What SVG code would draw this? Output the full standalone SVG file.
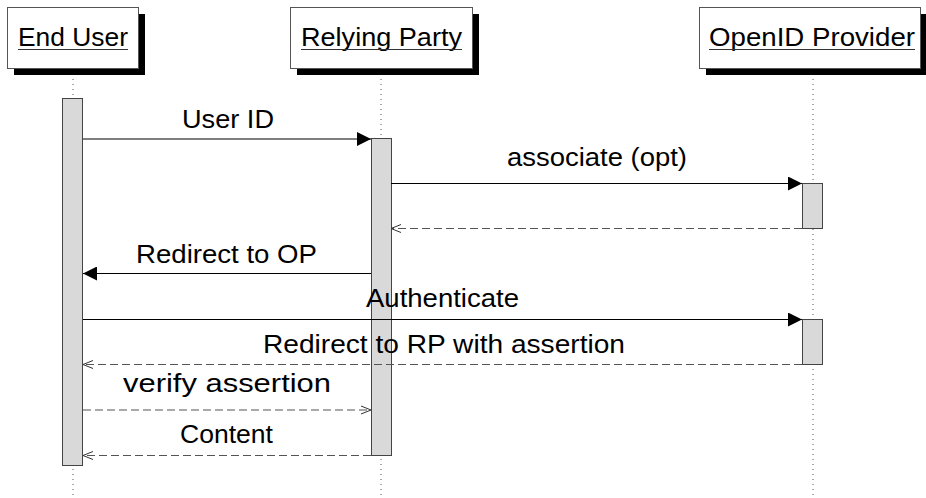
<svg xmlns="http://www.w3.org/2000/svg" width="926" height="498" viewBox="0 0 926 498">
<style>
text{font-family:"Liberation Sans","DejaVu Sans",sans-serif;font-size:26px;fill:#000}
.box{fill:#fff;stroke:#555;stroke-width:1}
.shadow{fill:#000}
.ul{stroke:#333;stroke-width:1.2}
.life{stroke:#555;stroke-width:1;stroke-dasharray:1 4}
.act{fill:#d9d9d9;stroke:#444;stroke-width:1}
.msg{stroke:#000;stroke-width:1.2;fill:none}
.ret{stroke:#555;stroke-width:1.2;fill:none;stroke-dasharray:8 4}
</style>
<defs>
<marker id="fill" markerWidth="14" markerHeight="14" refX="14" refY="7" orient="auto" markerUnits="userSpaceOnUse">
<path d="M0,0 L14,7 L0,14 Z" fill="#000"/>
</marker>
<marker id="open" markerWidth="12" markerHeight="12" refX="11" refY="6" orient="auto" markerUnits="userSpaceOnUse">
<path d="M1,2 L11,6 L1,10" fill="none" stroke="#333" stroke-width="1"/>
</marker>
</defs>
<g id="lifelines">
<line class="life" x1="73" y1="74" x2="73" y2="498"/>
<line class="life" x1="381" y1="74" x2="381" y2="498"/>
<line class="life" x1="813" y1="74" x2="813" y2="498"/>
</g>
<g id="end-user">
<rect class="shadow" x="14" y="14" width="131" height="61"/>
<rect class="box" x="7.5" y="7.5" width="131" height="61"/>
<text x="73" y="46" text-anchor="middle" textLength="110" lengthAdjust="spacingAndGlyphs">End User</text>
<line class="ul" x1="18" y1="49.5" x2="128" y2="49.5"/>
<rect class="act" x="62.5" y="98.5" width="20" height="367"/>
</g>
<g id="relying-party">
<rect class="shadow" x="297" y="14" width="182" height="61"/>
<rect class="box" x="290.5" y="7.5" width="182" height="61"/>
<text x="381.5" y="46" text-anchor="middle" textLength="161" lengthAdjust="spacingAndGlyphs">Relying Party</text>
<line class="ul" x1="301" y1="49.5" x2="462" y2="49.5"/>
<rect class="act" x="371.5" y="138.5" width="20" height="317"/>
</g>
<g id="openid-provider">
<rect class="shadow" x="706" y="14" width="221" height="61"/>
<rect class="box" x="699.5" y="7.5" width="221" height="61"/>
<text x="812" y="46" text-anchor="middle" textLength="206" lengthAdjust="spacingAndGlyphs">OpenID Provider</text>
<line class="ul" x1="709" y1="49.5" x2="915" y2="49.5"/>
<rect class="act" x="802.5" y="183.5" width="20" height="45"/>
<rect class="act" x="802.5" y="319.5" width="20" height="45"/>
</g>
<g id="connectors">
<line class="msg" x1="83" y1="139" x2="371" y2="139" marker-end="url(#fill)"/>
<line class="msg" x1="391" y1="183.5" x2="802" y2="183.5" marker-end="url(#fill)"/>
<line class="ret" x1="802" y1="228.5" x2="391" y2="228.5" marker-end="url(#open)"/>
<line class="msg" x1="371" y1="273.5" x2="83" y2="273.5" marker-end="url(#fill)"/>
<line class="msg" x1="83" y1="319.5" x2="802" y2="319.5" marker-end="url(#fill)"/>
<line class="ret" x1="802" y1="364.5" x2="83" y2="364.5" marker-end="url(#open)"/>
<line class="ret" x1="83" y1="410" x2="371" y2="410" marker-end="url(#open)"/>
<line class="ret" x1="371" y1="455.5" x2="83" y2="455.5" marker-end="url(#open)"/>
</g>
<g id="labels">
<text x="228" y="128" text-anchor="middle" textLength="92" lengthAdjust="spacingAndGlyphs">User ID</text>
<text x="597" y="166" text-anchor="middle" textLength="180" lengthAdjust="spacingAndGlyphs">associate (opt)</text>
<text x="226.5" y="263" text-anchor="middle" textLength="181" lengthAdjust="spacingAndGlyphs">Redirect to OP</text>
<text x="442.5" y="307" text-anchor="middle" textLength="153" lengthAdjust="spacingAndGlyphs">Authenticate</text>
<text x="444" y="353" text-anchor="middle" textLength="362" lengthAdjust="spacingAndGlyphs">Redirect to RP with assertion</text>
<text x="227" y="392" text-anchor="middle" textLength="208" lengthAdjust="spacingAndGlyphs">verify assertion</text>
<text x="226.5" y="443" text-anchor="middle" textLength="93" lengthAdjust="spacingAndGlyphs">Content</text>
</g>
</svg>
